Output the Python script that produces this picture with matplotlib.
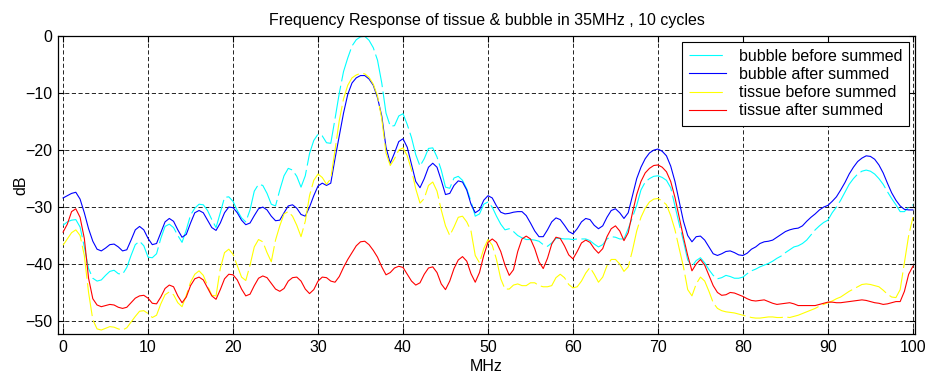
import numpy as np
import matplotlib
matplotlib.use("Agg")
import matplotlib.pyplot as plt

plt.rcParams['font.family'] = ['Liberation Sans', 'DejaVu Sans']

# frequency axis, sampled every 0.5 MHz
freq_mhz = np.arange(0, 100.5, 0.5)

bubble_after = [
    -28.4, -28.0, -27.6, -27.4, -28.6, -31.0, -33.8, -36.0, -37.4, -37.7,
    -37.2, -36.6, -36.5, -37.0, -37.7, -37.5, -35.8, -34.0, -33.4, -34.0,
    -35.5, -36.6, -36.4, -34.5, -32.6, -32.0, -32.5, -34.0, -35.3, -34.8,
    -32.8, -31.0, -30.6, -31.0, -32.3, -33.6, -34.1, -32.8, -31.0, -30.0,
    -30.1, -31.0, -32.3, -33.1, -32.8, -31.5, -30.3, -30.0, -30.5, -31.6,
    -32.4, -32.3, -31.0, -29.8, -29.6, -30.2, -31.3, -31.6, -30.0, -28.0,
    -26.3, -25.8, -26.2, -25.8, -21.5, -17.5, -13.5, -10.2, -8.2, -7.3,
    -6.9, -6.9, -7.5, -8.6, -10.8, -14.0, -19.5, -22.3, -20.5, -18.5,
    -18.0, -19.5, -22.5, -25.5, -26.6, -25.0, -23.0, -22.3, -23.0, -25.3,
    -27.8, -27.6, -26.2, -25.4, -25.6, -27.0, -29.5, -31.0, -30.5, -28.8,
    -28.0, -28.4, -29.8, -30.9, -31.2, -31.1, -30.9, -30.8, -30.8, -31.5,
    -32.8, -34.2, -35.2, -35.2, -34.0, -32.6, -31.9, -32.2, -33.2, -34.3,
    -34.7, -33.8, -32.6, -32.0, -32.2, -33.2, -33.8, -33.3, -31.8, -30.6,
    -30.3, -31.0, -32.0, -31.0, -28.0, -25.0, -23.0, -21.5, -20.5, -20.0,
    -19.8, -20.2, -21.0, -22.8, -25.5, -29.0, -32.5, -35.0, -36.1, -35.2,
    -35.1, -35.8, -37.0, -38.2, -38.5, -38.2, -37.8, -37.7, -38.0, -38.4,
    -38.5, -38.1, -37.4, -37.0, -36.4, -36.1, -36.0, -35.8, -35.3, -34.8,
    -34.3, -34.0, -33.8, -33.7, -33.3, -32.5, -31.8, -31.2, -30.5, -30.0,
    -29.7, -29.0, -28.2, -27.0, -25.7, -24.2, -23.0, -22.0, -21.4, -21.0,
    -21.1, -21.6, -22.6, -24.0, -25.8, -27.5, -28.8, -29.8, -30.4, -30.5,
    -30.5,
]

tissue_after = [
    -34.4, -33.0, -30.8, -30.3, -31.8, -35.5, -42.5, -46.1, -47.2, -47.5,
    -47.3, -47.1, -47.2, -47.6, -47.8, -47.6, -46.8, -46.0, -45.6, -45.5,
    -46.0, -46.9, -47.0, -45.8, -44.3, -43.7, -44.0, -45.6, -46.8, -45.8,
    -43.8, -42.6, -42.3, -42.8, -44.2, -45.6, -46.2, -44.5, -42.6, -41.8,
    -41.9, -42.8, -44.4, -45.6, -45.3, -43.8, -42.5, -42.1, -42.4, -43.4,
    -44.4, -44.8, -44.3, -43.0, -42.4, -42.3, -43.0, -44.4, -45.2, -44.5,
    -43.0, -42.3, -42.4, -43.0, -43.2, -42.2, -40.6, -39.2, -38.0, -36.8,
    -36.1, -36.0, -36.6, -37.6, -38.8, -40.5, -41.9, -41.5, -40.7, -40.4,
    -40.6, -41.8, -43.0, -43.7, -43.3, -41.8, -40.7, -40.5, -41.5, -43.5,
    -44.5, -43.0, -40.8, -39.3, -38.7, -39.5, -41.7, -43.2, -41.5, -38.5,
    -36.2, -35.6, -36.2, -37.8, -40.2, -42.0, -41.0, -37.8, -35.6, -35.1,
    -35.6, -37.3, -39.6, -40.8, -39.0, -36.5, -35.3, -35.5, -36.8, -38.4,
    -39.1, -37.8, -36.3, -35.8, -36.2, -37.3, -38.1, -37.3, -35.2, -33.8,
    -33.3, -34.2, -35.9, -34.5, -31.0, -27.8, -25.5, -24.0, -23.2, -22.7,
    -22.6, -23.0, -23.8, -25.5, -28.3, -31.8, -35.3, -38.5, -41.2, -40.0,
    -39.2, -40.2, -42.0, -43.8, -45.0, -45.5, -45.4, -45.0, -45.1, -45.4,
    -45.7, -46.1, -46.4, -46.5, -46.4, -46.3, -46.6, -46.9, -47.1, -47.0,
    -46.9, -46.8, -47.0, -47.3, -47.3, -47.3, -47.3, -47.3, -47.1, -46.9,
    -46.7, -46.7, -46.8, -46.8, -46.7, -46.6, -46.5, -46.4, -46.3, -46.4,
    -46.6, -46.8, -46.9, -47.1, -47.0, -46.8, -46.6, -46.6, -44.8, -41.8,
    -40.4,
]

bubble_before = [
    -33.2, -32.6, -32.3, -32.2, -33.5, -37.0, -40.8, -42.5, -43.0, -42.8,
    -42.0, -41.3, -41.1, -41.7, -41.8, -40.6, -38.5, -36.6, -36.0, -36.8,
    -38.8, -38.9, -38.2, -35.5, -33.4, -33.0, -33.6, -35.0, -36.2, -34.0,
    -31.4, -30.2, -29.5, -29.6, -30.6, -32.2, -33.6, -31.0, -28.3, -28.2,
    -29.0, -30.6, -31.9, -32.6, -30.5, -27.2, -26.0, -26.2, -27.6, -29.5,
    -29.8, -27.0, -24.5, -23.2, -23.5, -24.6, -26.5, -24.5, -20.6, -18.3,
    -17.2, -17.5, -18.7, -18.8, -14.5, -10.0, -6.2, -3.8, -1.7, -0.6,
    -0.1, 0.0, -0.7, -2.0, -4.2, -8.2, -13.5, -15.8, -15.7, -14.0,
    -13.6, -15.5, -17.8, -20.8, -22.8, -21.5, -19.7, -19.6, -21.2, -23.5,
    -26.5, -26.7, -24.9, -24.6, -25.3, -26.8, -29.0, -31.6, -31.2, -29.5,
    -29.1, -30.0, -31.6, -33.0, -34.0, -33.8, -34.3, -35.0, -35.4, -35.7,
    -35.7, -35.8, -36.0, -36.6, -36.9, -36.3, -35.5, -35.5, -35.6, -35.6,
    -35.7, -35.6, -35.6, -35.6, -35.9, -36.5, -37.0, -36.6, -35.6, -35.2,
    -35.3, -35.6, -35.6, -33.8, -31.8, -29.7, -27.0, -25.6, -25.0, -24.6,
    -24.5, -24.8, -25.3, -26.6, -29.8, -33.0, -36.0, -39.3, -40.4, -39.4,
    -38.9, -39.8, -41.0, -42.0, -42.6, -42.4, -42.0, -42.2, -42.5, -42.5,
    -42.3, -41.7, -41.2, -40.9, -40.5, -40.2, -39.9, -39.5, -39.0, -38.6,
    -38.0, -37.5, -37.0, -36.8, -36.4, -35.8, -34.9, -34.0, -33.3, -32.7,
    -32.3, -31.0, -30.0, -28.8, -27.4, -26.0, -25.0, -24.2, -23.7, -23.5,
    -23.7, -24.2, -25.0, -26.0, -27.3, -28.5, -29.6, -30.8, -30.8, -30.0,
    -29.6,
]

tissue_before = [
    -36.7, -35.6, -34.5, -34.0, -35.0, -38.5, -45.0, -49.8, -51.4, -51.6,
    -51.3, -51.0, -51.1, -51.4, -51.6, -51.2, -50.2, -49.2, -48.3, -48.2,
    -48.7, -49.4, -49.0, -47.0, -45.4, -44.9, -45.4, -46.8, -47.5, -45.5,
    -43.2, -41.8, -41.2, -42.0, -43.8, -45.5, -45.6, -40.8, -38.0, -37.4,
    -38.3, -40.3, -42.3, -42.9, -40.2, -37.0, -35.7, -36.1, -38.0, -39.6,
    -35.8, -33.3, -31.2, -30.8, -31.6, -33.2, -35.2, -32.5, -28.0, -25.3,
    -24.2, -24.8, -26.0, -25.0, -20.0, -14.8, -11.0, -8.6, -7.3, -6.8,
    -6.5, -6.6, -7.2, -8.4, -10.5, -14.5, -20.5, -22.7, -21.5, -20.0,
    -19.6, -21.0, -23.5, -26.8, -29.3, -28.5, -26.2, -25.6, -27.2, -30.5,
    -33.3, -35.0, -33.5, -31.8, -31.6, -32.6, -34.2, -38.5, -39.8, -37.3,
    -35.7, -36.7, -39.2, -42.6, -44.4, -44.4, -43.7, -43.5, -43.8, -43.8,
    -43.3, -43.3, -43.8, -44.0, -44.0, -43.8, -42.4, -41.8, -42.4, -43.6,
    -44.2, -44.0, -43.0, -41.6, -40.6, -41.8, -43.2, -42.3, -40.3, -39.2,
    -39.2, -40.0, -41.3, -40.5, -37.6, -34.2, -31.8, -30.2, -29.1, -28.6,
    -28.5, -28.9, -29.6, -31.5, -34.0, -37.3, -40.5, -44.5, -45.6, -43.5,
    -42.3, -43.0, -44.8, -46.8, -47.8, -48.2, -48.4, -48.5, -48.6, -48.8,
    -49.0, -49.2, -49.4, -49.5, -49.5, -49.4, -49.3, -49.3, -49.4, -49.4,
    -49.3, -49.4, -49.2, -49.0, -48.7, -48.4, -48.1, -47.8, -47.4, -47.1,
    -46.8, -46.5, -46.1, -45.8, -45.3, -44.8, -44.4, -44.0, -43.6, -43.5,
    -43.6, -43.8, -44.0, -44.6, -45.3, -45.8, -45.9, -44.5, -39.8, -35.0,
    -31.8,
]

series_labels = ["bubble before summed", "bubble after summed",
                 "tissue before summed", "tissue after summed"]

title_text = "Frequency Response of tissue & bubble in 35MHz , 10 cycles"
x_ticks = [0, 10, 20, 30, 40, 50, 60, 70, 80, 90, 100]
y_ticks = [0, -10, -20, -30, -40, -50]

FS = 11.5

fig = plt.figure(figsize=(9.32, 3.77), dpi=100)
ax = fig.add_axes([0.0622, 0.114, 0.9196, 0.7905])

long_dash = (0, (30, 4))
ax.plot(freq_mhz, bubble_before, color=(0, 1, 1), lw=0.8, linestyle=long_dash,
        label=series_labels[0])
ax.plot(freq_mhz, bubble_after, color=(0, 0, 1), lw=0.8, label=series_labels[1])
ax.plot(freq_mhz, tissue_before, color=(1, 1, 0), lw=0.8, linestyle=long_dash,
        label=series_labels[2])
ax.plot(freq_mhz, tissue_after, color=(1, 0, 0), lw=0.8, label=series_labels[3])

ax.set_xlim(-0.6, 100.25)
ax.set_ylim(-52.3, 0.05)
ax.set_xticks(x_ticks)
ax.set_yticks(y_ticks)
ax.tick_params(direction='in', length=4, width=0.8, top=True, right=True,
               labelsize=FS, colors='black', pad=4)
ax.grid(True, color='black', linestyle=(0, (5, 3)), linewidth=0.6)
for s in ax.spines.values():
    s.set_linewidth(0.9)
    s.set_color('black')

ax.set_title(title_text, fontsize=FS, pad=8)
ax.set_xlabel("MHz", fontsize=FS, labelpad=3)
ax.set_ylabel("dB", fontsize=FS, labelpad=-2)

leg = ax.legend(loc='upper right', fontsize=FS, fancybox=False, framealpha=1,
                edgecolor='black', handlelength=2.3, handletextpad=0.8,
                labelspacing=0.2, borderaxespad=0.35, borderpad=0.45)
leg.get_frame().set_linewidth(0.8)

fig.savefig("out.png", dpi=100)
